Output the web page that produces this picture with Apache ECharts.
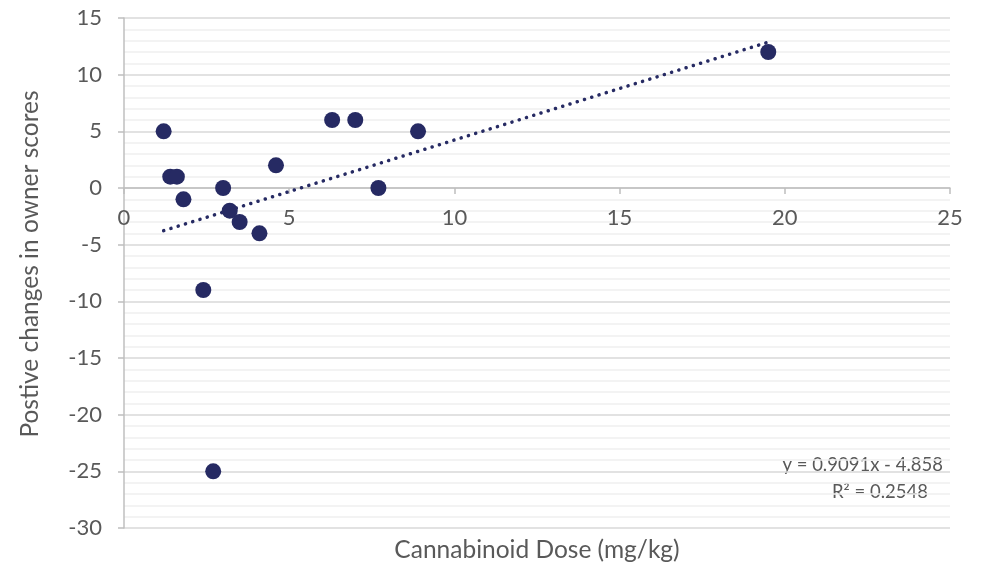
<!DOCTYPE html>
<html><head><meta charset="utf-8">
<script src="https://cdn.jsdelivr.net/npm/echarts@6/dist/echarts.min.js"></script>
<style>html,body{margin:0;padding:0;background:#fff}#c{width:989px;height:563px}</style>
</head><body><div id="c"></div>
<script>
const doseX = [1.2, 1.4, 1.6, 1.8, 2.4, 2.7, 3.0, 3.2, 3.5, 4.1, 4.6, 6.3, 7.0, 7.7, 8.9, 19.5];
const scoreY = [5, 1, 1, -1, -9, -25, 0, -2, -3, -4, 2, 6, 6, 0, 5, 12];
const trendSlope = 0.9091;
const trendIntercept = -4.858;
const equationLines = ['y = 0.9091x - 4.858', 'R² = 0.2548'];
const xTitle = 'Cannabinoid Dose (mg/kg)';
const yTitle = 'Postive changes in owner scores';
const xRange = [0, 25];
const yRange = [-30, 15];

const points = doseX.map((x, i) => [x, scoreY[i]]);
const xMin = Math.min(...doseX), xMax = Math.max(...doseX);
const trend = [[xMin, trendSlope * xMin + trendIntercept], [xMax, trendSlope * xMax + trendIntercept]];

const W = 989, H = 563;
const G = {left: 124, right: 39, top: 18, bottom: 35};
const plotH = H - G.top - G.bottom;
// shift x axis (line, ticks, labels) up to the y = 0 crossing
const zeroOffset = -plotH * (0 - yRange[0]) / (yRange[1] - yRange[0]);

const FONT = 'Lato';
const FS = 22;      // tick labels
const FT = 24.5;    // axis titles
const FE = 18.5;    // equation
const TXT = '#595959';
const AX = '#bfbfbf';
const DOT = '#262a63';
const chart = echarts.init(document.getElementById('c'), null, {renderer: 'canvas'});
chart.setOption({
  animation: false,
  grid: Object.assign({containLabel: false, outerBoundsMode: 'none'}, G),
  xAxis: {
    type: 'value', min: xRange[0], max: xRange[1], interval: 5,
    offset: zeroOffset,
    axisLine: {onZero: false, lineStyle: {color: AX, width: 1.5}},
    axisTick: {show: true, length: 6, lineStyle: {color: AX, width: 1.5}},
    axisLabel: {color: TXT, fontSize: FS, fontFamily: FONT, margin: 19},
    splitLine: {show: false}
  },
  yAxis: {
    type: 'value', min: yRange[0], max: yRange[1], interval: 5,
    name: yTitle, nameLocation: 'middle', nameGap: 81, nameRotate: 90,
    nameTextStyle: {color: TXT, fontSize: FT, fontFamily: FONT, padding: [0, 0, 0, 18]},
    axisLine: {show: true, onZero: false, lineStyle: {color: AX, width: 1.5}},
    axisTick: {show: true, length: 6, lineStyle: {color: AX, width: 1.5}},
    axisLabel: {color: TXT, fontSize: FS, fontFamily: FONT, margin: 22},
    splitLine: {show: true, lineStyle: {color: '#d9d9d9', width: 1.5}},
    minorTick: {show: false, splitNumber: 5},
    minorSplitLine: {show: true, lineStyle: {color: '#efefef', width: 1.5}}
  },
  graphic: [
    {type: 'text', x: G.left + (W - G.left - G.right) / 2, y: 550,
     style: {text: xTitle, fill: TXT, font: FT + 'px "' + FONT + '"', textAlign: 'center', textVerticalAlign: 'middle'}},
    {type: 'text', x: 943, y: 465,
     style: {text: equationLines[0], fill: TXT, font: FE + 'px "' + FONT + '"', textAlign: 'right', textVerticalAlign: 'middle'}},
    {type: 'text', x: 880, y: 492,
     style: {text: equationLines[1], fill: TXT, font: FE + 'px "' + FONT + '"', textAlign: 'center', textVerticalAlign: 'middle'}}
  ],
  series: [
    {type: 'line', data: trend, showSymbol: false, symbol: 'none', silent: true, z: 3,
     lineStyle: {color: DOT, width: 3.5, type: [0.1, 7.5], cap: 'round'}},
    {type: 'scatter', data: points, symbol: 'circle', symbolSize: 16, z: 4,
     itemStyle: {color: DOT, opacity: 1}}
  ]
});
</script></body></html>
